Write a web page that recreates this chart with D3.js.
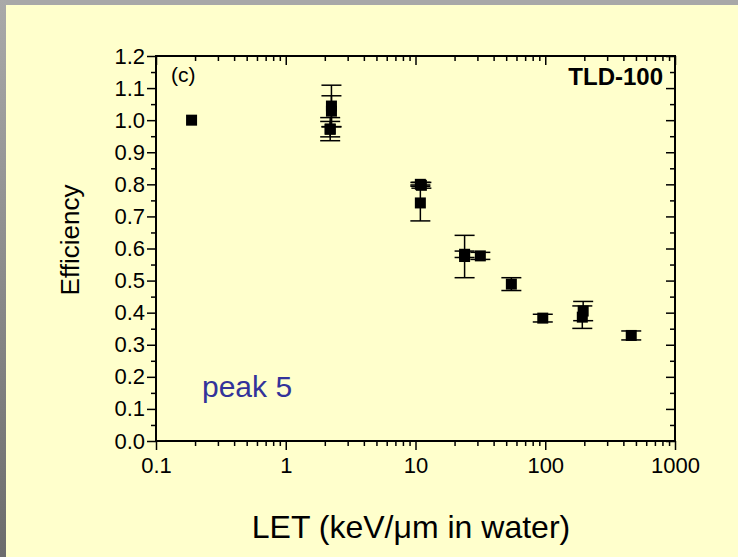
<!DOCTYPE html>
<html>
<head>
<meta charset="utf-8">
<script src="https://cdn.jsdelivr.net/npm/d3@7/dist/d3.min.js"></script>
<style>
  body { margin: 0; background: #ffffcc; }
  svg { display: block; }
  text { font-family: "Liberation Sans", Arial, sans-serif; }
</style>
</head>
<body>
<svg id="chart"></svg>
<script>
// datos (LET en keV/um, eficiencia, barra de error)
const letValues  = [0.188, 2.25, 2.25, 2.2, 2.2, 10.9, 11.1, 10.9, 23.9, 23.9, 31.6, 54.8, 95.7, 196, 193, 460];
const efficiency = [1.000, 1.044, 1.028, 0.972, 0.972, 0.800, 0.797, 0.742, 0.582, 0.575, 0.577, 0.489, 0.383, 0.405, 0.386, 0.329];
const errors     = [0.000, 0.065, 0.048, 0.036, 0.024, 0.006, 0.009, 0.056, 0.010, 0.066, 0.011, 0.020, 0.012, 0.030, 0.035, 0.014];

const xMajor = [0.1, 1, 10, 100, 1000];
const xMajorLabels = ["0.1", "1", "10", "100", "1000"];
const yMajor = [0, 0.1, 0.2, 0.3, 0.4, 0.5, 0.6, 0.7, 0.8, 0.9, 1.0, 1.1, 1.2];

const width = 738, height = 557;
const svg = d3.select('#chart').attr('width', width).attr('height', height);

// fondo y marco gris
const defs = svg.append('defs');
const grad = defs.append('linearGradient').attr('id', 'leftband')
  .attr('x1', 0).attr('y1', 0).attr('x2', 0).attr('y2', 1);
grad.append('stop').attr('offset', 0).attr('stop-color', '#a9a9a9');
grad.append('stop').attr('offset', 1).attr('stop-color', '#6c6c6c');

svg.append('rect').attr('width', width).attr('height', height).attr('fill', '#ffffcc');
svg.append('rect').attr('x', 0).attr('y', 0).attr('width', width).attr('height', 5).attr('fill', '#a8a8a8');
svg.append('rect').attr('x', 0).attr('y', 0).attr('width', 6).attr('height', height).attr('fill', 'url(#leftband)');

const x = d3.scaleLog().domain([0.1, 1000]).range([156, 675]);
const y = d3.scaleLinear().domain([0, 1.2]).range([441, 56]);

const xMinor = [];
xMajor.slice(0, -1).forEach(d => { for (let k = 2; k <= 9; k++) xMinor.push(d * k); });
const yMinor = yMajor.slice(0, -1).map(d => d + 0.05);

const fmtX = d => xMajorLabels[xMajor.indexOf(d)];

function styleAxis(g) {
  g.select('.domain').remove();
  g.selectAll('line').attr('stroke', '#000').attr('stroke-width', 1.5);
  g.selectAll('text').attr('fill', '#000').attr('font-size', 22);
}

// eje inferior
svg.append('g').attr('transform', 'translate(0,441)')
  .call(d3.axisBottom(x).tickValues(xMinor).tickSize(5).tickFormat(''))
  .call(styleAxis);
svg.append('g').attr('transform', 'translate(0,441)')
  .call(d3.axisBottom(x).tickValues(xMajor).tickSize(9).tickPadding(7).tickFormat(fmtX))
  .call(styleAxis);
// eje superior (marcas hacia dentro)
svg.append('g').attr('transform', 'translate(0,56)')
  .call(d3.axisBottom(x).tickValues(xMinor).tickSize(5).tickFormat(''))
  .call(styleAxis);
svg.append('g').attr('transform', 'translate(0,56)')
  .call(d3.axisBottom(x).tickValues(xMajor).tickSize(9).tickFormat(''))
  .call(styleAxis);
// eje izquierdo
svg.append('g').attr('transform', 'translate(156,0)')
  .call(d3.axisLeft(y).tickValues(yMinor).tickSize(5).tickFormat(''))
  .call(styleAxis);
svg.append('g').attr('transform', 'translate(156,0)')
  .call(d3.axisLeft(y).tickValues(yMajor).tickSize(9).tickPadding(2).tickFormat(d3.format('.1f')))
  .call(styleAxis);
// eje derecho (marcas hacia dentro)
svg.append('g').attr('transform', 'translate(675,0)')
  .call(d3.axisLeft(y).tickValues(yMinor).tickSize(5).tickFormat(''))
  .call(styleAxis);
svg.append('g').attr('transform', 'translate(675,0)')
  .call(d3.axisLeft(y).tickValues(yMajor).tickSize(9).tickFormat(''))
  .call(styleAxis);

// marco del área de trazado
svg.append('rect')
  .attr('x', x(0.1)).attr('y', y(1.2))
  .attr('width', x(1000) - x(0.1)).attr('height', y(0) - y(1.2))
  .attr('fill', 'none').attr('stroke', '#000').attr('stroke-width', 2);

// datos
const data = letValues.map((d, i) => ({ let: d, eff: efficiency[i], err: errors[i] }));
const capW = 10, sq = 11;

const bars = svg.append('g').attr('stroke', '#000').attr('stroke-width', 1.5);
data.filter(d => d.err > 0).forEach(d => {
  const cx = x(d.let);
  bars.append('line').attr('x1', cx).attr('x2', cx).attr('y1', y(d.eff - d.err)).attr('y2', y(d.eff + d.err));
  [d.eff - d.err, d.eff + d.err].forEach(v => {
    bars.append('line').attr('x1', cx - capW).attr('x2', cx + capW).attr('y1', y(v)).attr('y2', y(v));
  });
});

svg.append('g').selectAll('rect')
  .data(data)
  .join('rect')
  .attr('x', d => x(d.let) - sq / 2)
  .attr('y', d => y(d.eff) - sq / 2)
  .attr('width', sq).attr('height', sq)
  .attr('fill', '#000');

// textos
svg.append('text').attr('x', 171).attr('y', 82).attr('font-size', 21).text('(c)');
svg.append('text').attr('x', 663).attr('y', 85).attr('font-size', 24).attr('font-weight', 'bold')
  .attr('text-anchor', 'end').text('TLD-100');
svg.append('text').attr('x', 202).attr('y', 397).attr('font-size', 30).attr('fill', '#33339a').text('peak 5');
svg.append('text').attr('x', 411).attr('y', 538).attr('font-size', 32).attr('text-anchor', 'middle')
  .text('LET (keV/\u03bcm in water)');
svg.append('text').attr('transform', 'translate(79,240) rotate(-90)').attr('font-size', 26)
  .attr('text-anchor', 'middle').text('Efficiency');
</script>
</body>
</html>
